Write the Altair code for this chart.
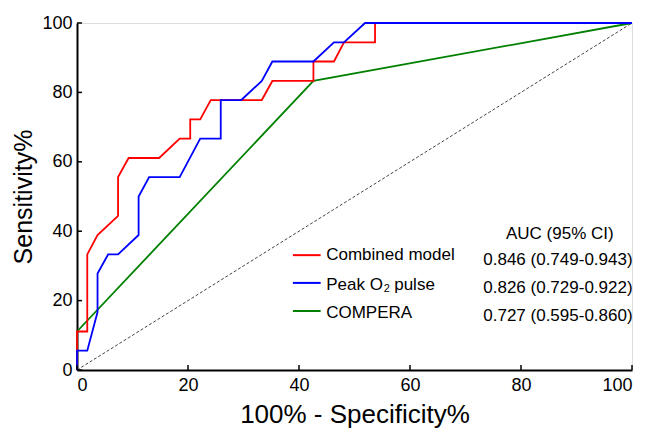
import altair as alt
import pandas as pd

# ---- data ----
series = ["Combined model", "Peak O2 pulse", "COMPERA"]
colors = ["#ff0000", "#0000ff", "#008000"]
auc_labels = ["0.846 (0.749-0.943)", "0.826 (0.729-0.922)", "0.727 (0.595-0.860)"]

red_x = [0, 0, 1.85, 1.85, 3.7, 7.4, 7.4, 9.3, 14.8, 18.5, 20.4, 20.4, 22.2, 24.1,
         33.3, 35.2, 42.6, 42.6, 46.3, 48.1, 53.7, 53.7, 100]
red_y = [0, 11.1, 11.1, 33.3, 38.9, 44.4, 55.6, 61.1, 61.1, 66.7, 66.7, 72.2, 72.2, 77.8,
         77.8, 83.3, 83.3, 88.9, 88.9, 94.4, 94.4, 100, 100]

blue_x = [0, 0, 1.85, 3.7, 3.7, 5.6, 7.4, 11.1, 11.1, 13.0, 18.5, 22.2, 25.9, 25.9,
          29.6, 33.3, 35.2, 42.6, 46.3, 48.1, 51.9, 100]
blue_y = [0, 5.56, 5.56, 16.7, 27.8, 33.3, 33.3, 38.9, 50.0, 55.6, 55.6, 66.7, 66.7, 77.8,
          77.8, 83.3, 88.9, 88.9, 94.4, 94.4, 100, 100]

green_x = [0, 0, 42.6, 100]
green_y = [0, 11.1, 83.3, 100]

diag_x = [0, 100]
diag_y = [0, 100]

tick_values = [0, 20, 40, 60, 80, 100]

# ---- layout constants ----
W, H = 555, 347
FONT = "Liberation Sans"


def curve(name, xs, ys):
    return pd.DataFrame({"series": name, "x": xs, "y": ys, "order": list(range(len(xs)))})


xscale = alt.Scale(domain=[0, 100], nice=False)
yscale = alt.Scale(domain=[0, 100], nice=False)
cscale = alt.Scale(domain=series, range=colors)

xaxis = alt.Axis(title="100% - Specificity%", values=tick_values, ticks=False,
                 domainWidth=2, domainColor="black", labelFontSize=18, labelColor="black",
                 labelPadding=6, titleFontSize=26, titleFontWeight="normal",
                 titleColor="black", titlePadding=7, grid=False, labelFont=FONT,
                 titleFont=FONT)
yaxis = alt.Axis(title="Sensitivity%", values=tick_values, ticks=False,
                 domainWidth=2, domainColor="black", labelFontSize=18, labelColor="black",
                 labelPadding=5, titleFontSize=25, titleFontWeight="normal",
                 titleColor="black", titlePadding=5, grid=False, labelFont=FONT,
                 titleFont=FONT)

diag = alt.Chart(pd.DataFrame({"x": diag_x, "y": diag_y})).mark_line(
    color="#444444", strokeWidth=1, strokeDash=[3, 2]
).encode(x=alt.X("x:Q", scale=xscale, axis=xaxis),
         y=alt.Y("y:Q", scale=yscale, axis=yaxis))


def line_layer(df):
    return alt.Chart(df).mark_line(strokeWidth=1.8).encode(
        x=alt.X("x:Q", scale=xscale),
        y=alt.Y("y:Q", scale=yscale),
        color=alt.Color("series:N", scale=cscale, legend=None),
        order="order:Q",
    )


green = line_layer(curve(series[2], green_x, green_y))
red = line_layer(curve(series[0], red_x, red_y))
blue = line_layer(curve(series[1], blue_x, blue_y))

# inward tick marks
ticks_df = pd.DataFrame({"v": tick_values})
xticks = alt.Chart(ticks_df).mark_rule(color="black", strokeWidth=1.5).encode(
    x=alt.X("v:Q", scale=xscale), y=alt.value(H), y2=alt.value(H - 5))
yticks = alt.Chart(ticks_df).mark_rule(color="black", strokeWidth=1.5).encode(
    y=alt.Y("v:Q", scale=yscale), x=alt.value(0), x2=alt.value(5))

# legend (positions in data units)
leg = pd.DataFrame({
    "series": series,
    "label": ["Combined model", "Peak O", "COMPERA"],
    "auc": auc_labels,
    "ly": [33.1, 25.1, 17.0],
    "ty": [33.1, 24.6, 16.3],
    "ay": [31.7, 23.6, 15.6],
})
leg_lines = alt.Chart(leg).mark_rule(strokeWidth=2).encode(
    x=alt.datum(38.9), x2=alt.datum(43.9), y=alt.Y("ly:Q", scale=yscale),
    color=alt.Color("series:N", scale=cscale, legend=None))
leg_text = alt.Chart(leg).mark_text(align="left", baseline="middle", fontSize=17,
                                    font=FONT, color="black").encode(
    x=alt.datum(44.9), y=alt.Y("ty:Q", scale=yscale), text="label:N")
sub_df = leg[leg["series"] == series[1]]
leg_sub = alt.Chart(sub_df).mark_text(align="left", baseline="middle", fontSize=11,
                                      font=FONT, color="black", dx=57.5, dy=4).encode(
    x=alt.datum(44.9), y=alt.Y("ty:Q", scale=yscale), text=alt.value("2"))
leg_pulse = alt.Chart(sub_df).mark_text(align="left", baseline="middle", fontSize=17,
                                        font=FONT, color="black", dx=68).encode(
    x=alt.datum(44.9), y=alt.Y("ty:Q", scale=yscale), text=alt.value("pulse"))
auc_text = alt.Chart(leg).mark_text(align="left", baseline="middle", fontSize=17,
                                    font=FONT, color="black").encode(
    x=alt.datum(73.2), y=alt.Y("ay:Q", scale=yscale), text="auc:N")
auc_head = alt.Chart(pd.DataFrame({"t": ["AUC (95% CI)"]})).mark_text(
    align="center", baseline="middle", fontSize=17, font=FONT, color="black").encode(
    x=alt.datum(87.0), y=alt.datum(39.2), text="t:N")

chart = alt.layer(
    diag, green, red, blue, xticks, yticks,
    leg_lines, leg_text, leg_sub, leg_pulse, auc_text, auc_head
).properties(
    width=W, height=H,
    autosize=alt.AutoSizeParams(type="none"),
    padding={"left": 69, "top": 15, "right": 9, "bottom": 59},
).configure_view(stroke=None).configure(font=FONT, background="white")

chart.save("out.html", embed_options={"renderer": "svg", "actions": False})
